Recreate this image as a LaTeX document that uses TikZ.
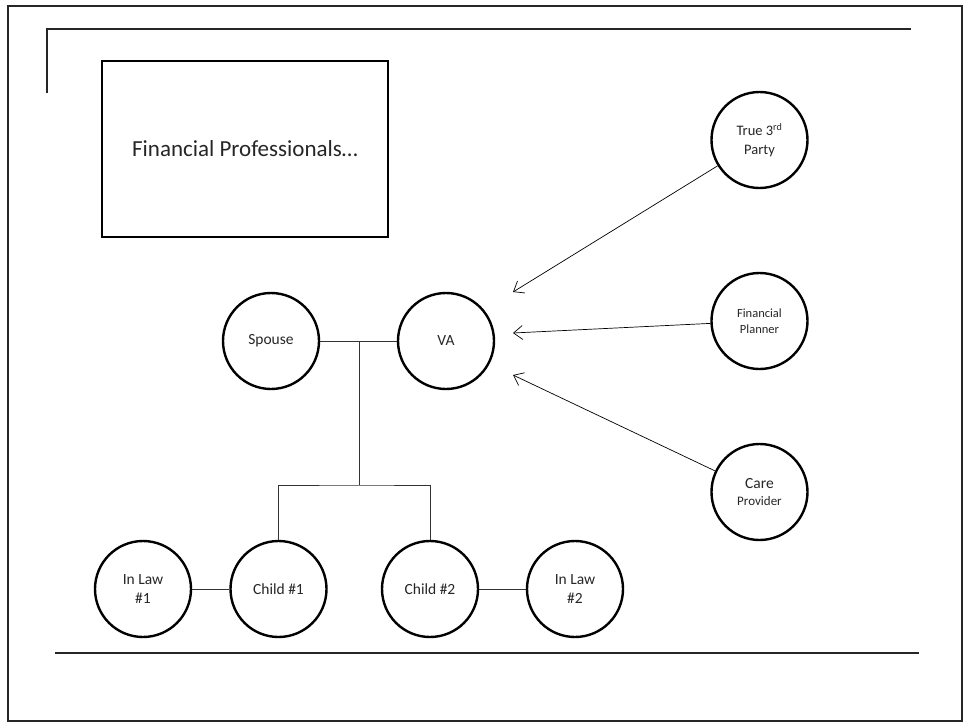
\documentclass[tikz,border=0pt]{standalone}
\usepackage{fontspec}
\setmainfont{Carlito}
\usetikzlibrary{arrows.meta}
\begin{document}
\begin{tikzpicture}[x=1pt,y=-1pt,
  person/.style={circle,draw,line width=2.4pt,minimum size=96pt,inner sep=0pt,align=center,
    font=\fontsize{15.5}{19}\selectfont,text=black!85},
  tie/.style={line width=0.9pt,draw=black!80},
  advice/.style={line width=0.7pt,-{Straight Barb[length=9pt,width=14pt,line width=0.7pt]}},
  frame/.style={line width=2pt,draw=black!85}]
\useasboundingbox (0,0) rectangle (967,723);

% page frame, corner bracket and footer rule
\draw[frame] (8,6) rectangle (962,721);
\draw[frame] (47,93) -- (47,29) -- (911,29);
\draw[frame] (55,653) -- (919,653);

% title box
\node[draw,line width=2.4pt,minimum width=286pt,minimum height=176pt,inner sep=0pt,
  font=\fontsize{23}{27}\selectfont,text=black!85] (title) at (245,149) {Financial Professionals…};

% family
\node[person] (spouse) at (271,341) {Spouse};
\node[person] (va) at (446,341) {VA};
\node[person] (inlaw1) at (143,589) {In Law\\\#1};
\node[person] (child1) at (278.5,589) {Child \#1};
\node[person] (child2) at (430,589) {Child \#2};
\node[person] (inlaw2) at (575,589) {In Law\\\#2};

% outside parties
\node[person,font=\fontsize{14.5}{19}\selectfont] (third) at (759.5,140) {True 3\textsuperscript{rd}\\Party};
\node[person,font=\fontsize{12.5}{16}\selectfont] (planner) at (759.5,321) {Financial\\Planner};
\node[person,font=\fontsize{15.5}{17}\selectfont] (care) at (759.5,492) {Care\\{\fontsize{13}{15}\selectfont Provider}};

% family tree lines
\coordinate (marriage) at (359,341);
\coordinate (branch) at (359,485);
\draw[tie] (spouse.east) -- (va.west);
\draw[tie] (marriage) -- (branch);
\draw[tie] (child1.north) |- (branch) -| (child2.north);
\draw[tie] (inlaw1.east) -- (child1.west);
\draw[tie] (child2.east) -- (inlaw2.west);

% arrows toward the VA
\coordinate (tipA) at (513,292);
\coordinate (tipB) at (513,333);
\coordinate (tipC) at (513,375);
\draw[advice] (third) -- (tipA);
\draw[advice] (planner) -- (tipB);
\draw[advice] (care) -- (tipC);
\end{tikzpicture}
\end{document}
